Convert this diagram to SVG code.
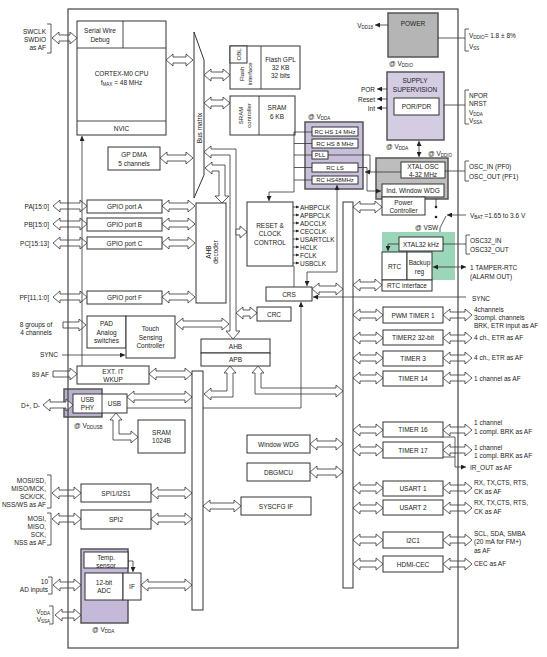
<svg xmlns="http://www.w3.org/2000/svg" width="547" height="657" viewBox="0 0 547 657">
<style>
.b{fill:#fff;stroke:#333;stroke-width:1}
.h{fill:#fff;stroke:#333;stroke-width:0.8}
.l{fill:none;stroke:#333;stroke-width:0.8}
.k{fill:none;stroke:#333;stroke-width:0.9}
.g{fill:#b5b5b5;stroke:#555;stroke-width:1.5}
.p{fill:#d4cce3;stroke:#555;stroke-width:1.5}
.q{fill:#c8bfda;stroke:#555;stroke-width:1.5}
.gr{fill:#9bd5ba;stroke:none}
text{font-family:"Liberation Sans",Arial,sans-serif;font-size:6.5px;fill:#222;dominant-baseline:central}
.t{text-anchor:middle}
.e{text-anchor:end}
.u{font-size:4.5px}
.sm{font-size:6px}
</style>
<defs>
<marker id="a" viewBox="0 0 8 8" refX="8" refY="4" markerWidth="5" markerHeight="5" orient="auto-start-reverse" markerUnits="userSpaceOnUse"><path d="M0,0L8,4L0,8z" fill="#222"/></marker>
<marker id="m" viewBox="0 0 8 8" refX="8" refY="4" markerWidth="3.5" markerHeight="3.5" orient="auto" markerUnits="userSpaceOnUse"><path d="M0,0L8,4L0,8z" fill="#222"/></marker>
<polygon id="d29" class="h" points="0,0 7,-6 7,-3 22,-3 22,-6 29,0 22,6 22,3 7,3 7,6"/>
<polygon id="d30" class="h" points="0,0 7,-6 7,-3 23,-3 23,-6 30,0 23,6 23,3 7,3 7,6"/>
<polygon id="d33" class="h" points="0,0 7,-6 7,-3 26,-3 26,-6 33,0 26,6 26,3 7,3 7,6"/>
<polygon id="d34" class="h" points="0,0 7,-6 7,-3 27,-3 27,-6 34,0 27,6 27,3 7,3 7,6"/>
</defs>
<rect width="547" height="657" fill="#fff"/>

<g id="power">
<rect class="g" x="388" y="13" width="50" height="44"/>
<text class="t" x="413" y="23">POWER</text>
<text x="389" y="63">@ V<tspan class="u" dy="1.5">DDIO</tspan></text>
<text class="e" x="373" y="25">V<tspan class="u" dy="1.5">DD18</tspan></text>
</g>
<g id="supply">
<rect class="p" x="387" y="72" width="57" height="68"/>
<text class="t" x="415" y="80">SUPPLY</text>
<text class="t" x="415" y="89">SUPERVISION</text>
<rect class="b" x="394" y="98" width="45" height="17"/>
<text class="t" x="416.5" y="106.5">POR/PDR</text>
<text class="e" x="375" y="89">POR</text>
<text class="e" x="375" y="99">Reset</text>
<text class="e" x="375" y="108">Int</text>
<text x="386" y="146">@ V<tspan class="u" dy="1.5">DDA</tspan></text>
</g>
<g id="osc">
<rect class="g" x="376" y="158" width="72" height="41" style="fill:#bdbdbd"/>
<rect class="b" x="401" y="162" width="44" height="16"/>
<text class="t" x="423" y="166">XTAL OSC</text>
<text class="t" x="423" y="174">4-32 MHz</text>
<rect class="b" x="382" y="184" width="62" height="13"/>
<text class="t" x="413" y="190.5">Ind. Window WDG</text>
<text x="428" y="153">@ V<tspan class="u" dy="1.5">DDIO</tspan></text>
</g>
<g id="power-controller">
<rect class="b" x="382" y="197" width="43" height="18"/>
<text class="t" x="403.5" y="202">Power</text>
<text class="t" x="403.5" y="210">Controller</text>
</g>
<g id="rtc">
<rect class="gr" x="382" y="232" width="73" height="48"/>
<rect class="b" x="399" y="237" width="44" height="14"/>
<text class="t" x="421" y="244">XTAL32 kHz</text>
<rect class="b" x="382" y="252" width="25" height="28"/>
<text class="t" x="394.5" y="266">RTC</text>
<rect class="b" x="407" y="252" width="25" height="28"/>
<text class="t" x="419.5" y="262">Backup</text>
<text class="t" x="419.5" y="271">reg</text>
<rect class="b" x="382" y="280" width="50" height="11"/>
<text class="t" x="407" y="285.5">RTC interface</text>
<text x="415" y="227">@ VSW</text>
</g>
<g id="clocks">
<rect class="q" x="305" y="122" width="58" height="67"/>
<rect class="b" x="312" y="127" width="46" height="9"/>
<text class="t sm" x="335" y="131.5">RC HS 14 MHz</text>
<rect class="b" x="312" y="139" width="46" height="9"/>
<text class="t sm" x="335" y="143.5">RC HS 8 MHz</text>
<rect class="b" x="312" y="151" width="16" height="8"/>
<text class="t sm" x="320" y="155">PLL</text>
<rect class="b" x="312" y="163" width="46" height="9"/>
<text class="t sm" x="335" y="167.5">RC LS</text>
<rect class="b" x="312" y="176" width="46" height="8"/>
<text class="t sm" x="335" y="180">RC HS48MHz</text>
<text x="308" y="116">@ V<tspan class="u" dy="1.5">DDA</tspan></text>
</g>

<g id="cpu">
<rect class="b" x="77" y="21" width="89" height="114"/>
<path class="k" d="M77,48H166M123,21V48M77,121H166"/>
<text class="t" x="100" y="30">Serial Wire</text>
<text class="t" x="100" y="39">Debug</text>
<text class="t" x="121.5" y="73">CORTEX-M0 CPU</text>
<text class="t" x="121.5" y="82">f<tspan class="u" dy="1.5">MAX</tspan><tspan dy="-1.5"> = 48 MHz</tspan></text>
<text class="t" x="121.5" y="128">NVIC</text>
</g>
<g id="bus-matrix">
<polygon class="b" points="194,32 204,60 204,175 194,198"/>
<text class="t" transform="translate(199.5,128) rotate(-90)">Bus matrix</text>
</g>
<g id="flash">
<rect class="b" x="230" y="46" width="70" height="43"/>
<path class="k" d="M261,46V89"/>
<rect class="b" x="230" y="46" width="17" height="17"/>
<text class="t sm" transform="translate(238.5,54.5) rotate(-90)">OBL</text>
<text class="t sm" transform="translate(246,74) rotate(-90)"><tspan x="0" y="-4">Flash</tspan><tspan x="0" y="4">interface</tspan></text>
<text class="t" x="280.5" y="59">Flash GPL</text>
<text class="t" x="280.5" y="67">32 KB</text>
<text class="t" x="280.5" y="75">32 bits</text>
</g>
<g id="sram">
<rect class="b" x="230" y="96" width="65" height="39"/>
<path class="k" d="M259,96V135"/>
<text class="t sm" transform="translate(244.5,115.5) rotate(-90)"><tspan x="0" y="-4">SRAM</tspan><tspan x="0" y="4">controller</tspan></text>
<text class="t" x="277" y="107">SRAM</text>
<text class="t" x="277" y="116">6 KB</text>
</g>
<g id="dma">
<rect class="b" x="108" y="147" width="52" height="23"/>
<text class="t" x="134" y="154">GP DMA</text>
<text class="t" x="134" y="163">5 channels</text>
</g>
<g id="gpio">
<rect class="b" x="87" y="200" width="75" height="13"/>
<text class="t" x="124.5" y="206.5">GPIO port A</text>
<rect class="b" x="87" y="218" width="75" height="13"/>
<text class="t" x="124.5" y="224.5">GPIO port B</text>
<rect class="b" x="87" y="237" width="75" height="12"/>
<text class="t" x="124.5" y="243">GPIO port C</text>
<rect class="b" x="87" y="291" width="75" height="13"/>
<text class="t" x="124.5" y="297.5">GPIO port F</text>
</g>
<g id="ahb-decoder">
<rect class="b" x="196" y="203" width="30" height="100"/>
<text class="t" transform="translate(211,252) rotate(-90)"><tspan x="0" y="-3.5">AHB</tspan><tspan x="0" y="3.5">decoder</tspan></text>
</g>
<g id="rcc">
<rect class="b" x="247" y="202" width="46" height="64"/>
<text class="t" x="270" y="225">RESET &amp;</text>
<text class="t" x="270" y="233">CLOCK</text>
<text class="t" x="270" y="242">CONTROL</text>
</g>
<g id="touch">
<rect class="b" x="87" y="316" width="39" height="32"/>
<text class="t" x="106.5" y="323">PAD</text>
<text class="t" x="106.5" y="332">Analog</text>
<text class="t" x="106.5" y="340">switches</text>
<rect class="b" x="126" y="316" width="49" height="42"/>
<text class="t" x="150.5" y="328">Touch</text>
<text class="t" x="150.5" y="337">Sensing</text>
<text class="t" x="150.5" y="345">Controller</text>
</g>
<g id="crc">
<rect class="b" x="257" y="307" width="34" height="14"/>
<text class="t" x="274" y="314">CRC</text>
</g>
<g id="crs">
<rect class="b" x="266" y="287" width="46" height="14"/>
<text class="t" x="289" y="294">CRS</text>
</g>
<g id="ahb-apb">
<rect class="b" x="201" y="339" width="69" height="14"/>
<text class="t" x="235.5" y="346">AHB</text>
<rect class="b" x="201" y="353" width="69" height="13"/>
<text class="t" x="235.5" y="359.5">APB</text>
</g>
<g id="exti">
<rect class="b" x="77" y="366" width="72" height="18"/>
<text class="t" x="113" y="371">EXT. IT</text>
<text class="t" x="113" y="379">WKUP</text>
</g>
<g id="usb">
<rect x="64" y="389" width="38" height="28" fill="#b9b0cc" stroke="#555" stroke-width="1.5"/>
<rect class="b" x="73" y="394" width="54" height="19"/>
<path class="k" d="M102,394V413"/>
<text class="t" x="87.5" y="399.5">USB</text>
<text class="t" x="87.5" y="407.5">PHY</text>
<text class="t" x="114.5" y="403.5">USB</text>
<text x="74" y="425">@ V<tspan class="u" dy="1.5">DDUSB</tspan></text>
</g>
<g id="sram1024">
<rect class="b" x="138" y="420" width="47" height="33"/>
<text class="t" x="161.5" y="432">SRAM</text>
<text class="t" x="161.5" y="440">1024B</text>
</g>
<g id="periph-bus">
<rect class="b" x="343" y="202" width="10" height="386"/>
</g>
<g id="wwdg">
<rect class="b" x="247" y="435" width="63" height="18"/>
<text class="t" x="278.5" y="444">Window WDG</text>
</g>
<g id="dbgmcu">
<rect class="b" x="247" y="463" width="63" height="18"/>
<text class="t" x="278.5" y="472">DBGMCU</text>
</g>
<g id="syscfg">
<rect class="b" x="241" y="497" width="70" height="18"/>
<text class="t" x="276" y="506">SYSCFG IF</text>
</g>
<g id="spi1">
<rect class="b" x="81" y="484" width="70" height="18"/>
<text class="t" x="116" y="493">SPI1/I2S1</text>
</g>
<g id="spi2">
<rect class="b" x="81" y="510" width="70" height="19"/>
<text class="t" x="116" y="519.5">SPI2</text>
</g>
<g id="adc">
<rect x="81" y="549" width="47" height="74" fill="#c4b9d9" stroke="#555" stroke-width="1.5"/>
<rect class="b" x="84" y="552" width="44" height="16"/>
<text class="t" x="106" y="557">Temp.</text>
<text class="t" x="106" y="565">sensor</text>
<rect class="b" x="85" y="573" width="38" height="27"/>
<text class="t" x="104" y="582">12-bit</text>
<text class="t" x="104" y="590">ADC</text>
<rect class="b" x="123" y="573" width="18" height="27"/>
<text class="t" x="132" y="586">IF</text>
<text x="92" y="629">@ V<tspan class="u" dy="1.5">DDA</tspan></text>
</g>
<g id="timers">
<rect class="b" x="383" y="307" width="60" height="16"/><text class="t" x="413" y="315">PWM TIMER 1</text>
<rect class="b" x="383" y="330" width="60" height="15"/><text class="t" x="413" y="337.5">TIMER2 32-bit</text>
<rect class="b" x="383" y="351" width="60" height="15"/><text class="t" x="413" y="358.5">TIMER 3</text>
<rect class="b" x="383" y="371" width="60" height="15"/><text class="t" x="413" y="378.5">TIMER 14</text>
<rect class="b" x="383" y="422" width="60" height="15"/><text class="t" x="413" y="429.5">TIMER 16</text>
<rect class="b" x="383" y="442" width="60" height="16"/><text class="t" x="413" y="450">TIMER 17</text>
</g>
<g id="comms">
<rect class="b" x="383" y="481" width="60" height="15"/><text class="t" x="413" y="488.5">USART 1</text>
<rect class="b" x="383" y="500" width="60" height="15"/><text class="t" x="413" y="507.5">USART 2</text>
<rect class="b" x="383" y="532" width="60" height="16"/><text class="t" x="413" y="540">I2C1</text>
<rect class="b" x="383" y="556" width="60" height="16"/><text class="t" x="413" y="564">HDMI-CEC</text>
</g>

<g id="connectors">
<polygon class="h" points="52,38 59,32 59,35 70,35 70,32 77,38 70,44 70,41 59,41 59,44"/>
<polygon class="h" points="166,60 173,54 173,57 186,57 186,54 193,60 186,66 186,63 173,63 173,66"/>
<polygon class="h" points="204,75 211,69 211,72 223,72 223,69 230,75 223,81 223,78 211,78 211,81"/>
<polygon class="h" points="204,103 211,97 211,100 223,100 223,97 230,103 223,109 223,106 211,106 211,109"/>
<polygon class="h" points="160,158 167,152 167,155 186,155 186,152 193,158 186,164 186,161 167,161 167,164"/>
<use href="#d34" transform="translate(53,206)"/>
<use href="#d33" transform="translate(162,206)"/>
<use href="#d34" transform="translate(53,224)"/>
<use href="#d33" transform="translate(162,224)"/>
<use href="#d34" transform="translate(53,243)"/>
<use href="#d33" transform="translate(162,243)"/>
<use href="#d34" transform="translate(53,297)"/>
<use href="#d33" transform="translate(162,297)"/>
<polygon class="h" points="204,152 211,146 211,149 236,149 236,331 240,331 233,339 226,331 230,331 230,155 211,155 211,158"/>
<polygon class="h" points="205,168 212,162 212,165 225,165 225,196 229,196 222,203 215,196 219,196 219,171 212,171 212,174"/>
<polygon class="h" points="236,229 240,229 240,226 247,232 240,238 240,235 236,235"/>
<polygon class="h" points="63,322 79,322 79,319 86,325 79,331 79,328 63,328"/>
<polygon class="h" points="176,324 183,318 183,321 222,321 222,318 229,324 222,330 222,327 183,327 183,330"/>
<polygon class="h" points="236,313 243,307 243,310 250,310 250,307 257,313 250,319 250,316 243,316 243,319"/>
<polygon class="h" points="312,289 319,283 319,286 336,286 336,283 343,289 336,295 336,292 319,292 319,295"/>
<polygon class="h" points="53,371 70,371 70,368 77,374 70,380 70,377 53,377"/>
<polygon class="h" points="149,374 156,368 156,371 185,371 185,368 192,374 185,380 185,377 156,377 156,380"/>
<polygon class="h" points="43,405 50,399 50,402 66,402 66,399 73,405 66,411 66,408 50,408 50,411"/>
<polygon class="h" points="127,397 134,391 134,394 185,394 185,391 192,397 185,403 185,400 134,400 134,403"/>
<polygon class="h" points="116,413 122,420 119,420 119,434 131,434 131,431 138,437 131,443 131,440 113,440 113,420 110,420"/>
<polygon class="h" points="230,366 236,373 233,373 233,397 211,397 211,400 204,394 211,388 211,391 227,391 227,373 224,373"/>
<polygon class="h" points="258,366 264,373 261,373 261,388 336,388 336,385 343,391 336,397 336,394 255,394 255,373 252,373"/>
<use href="#d29" transform="translate(353,207)"/>
<use href="#d29" transform="translate(353,285)"/>
<use href="#d30" transform="translate(353,315)"/>
<use href="#d30" transform="translate(353,338)"/>
<use href="#d30" transform="translate(353,358)"/>
<use href="#d30" transform="translate(353,378)"/>
<use href="#d30" transform="translate(353,430)"/>
<use href="#d30" transform="translate(353,450)"/>
<use href="#d30" transform="translate(353,488)"/>
<use href="#d30" transform="translate(353,508)"/>
<use href="#d30" transform="translate(353,540)"/>
<use href="#d30" transform="translate(353,564)"/>
<use href="#d29" transform="translate(443,315)"/>
<use href="#d29" transform="translate(443,338)"/>
<use href="#d29" transform="translate(443,358)"/>
<use href="#d29" transform="translate(443,378)"/>
<use href="#d29" transform="translate(443,430)"/>
<use href="#d29" transform="translate(443,450)"/>
<use href="#d29" transform="translate(443,488)"/>
<use href="#d29" transform="translate(443,508)"/>
<use href="#d29" transform="translate(443,540)"/>
<use href="#d29" transform="translate(443,564)"/>
<use href="#d33" transform="translate(310,444)"/>
<use href="#d33" transform="translate(310,472)"/>
<polygon class="h" points="203,506 210,500 210,503 234,503 234,500 241,506 234,512 234,509 210,509 210,512"/>
<use href="#d29" transform="translate(52,493)"/>
<use href="#d29" transform="translate(52,519)"/>
<polygon class="h" points="151,493 158,487 158,490 185,490 185,487 192,493 185,499 185,496 158,496 158,499"/>
<polygon class="h" points="151,519 158,513 158,516 185,516 185,513 192,519 185,525 185,522 158,522 158,525"/>
<polygon class="h" points="141,585 148,579 148,582 185,582 185,579 192,585 185,591 185,588 148,588 148,591"/>
<polygon class="h" points="53,585 60,579 60,582 74,582 74,579 81,585 74,591 74,588 60,588 60,591"/>
<polygon class="h" points="55,615 62,609 62,612 74,612 74,609 81,615 74,621 74,618 62,618 62,621"/>

<path class="l" d="M82,366V136" marker-end="url(#a)"/>
<path class="l" d="M62,355H125" marker-end="url(#a)"/>
<path class="l" d="M127,408H301V302" marker-end="url(#a)"/>
<path class="l" d="M466,297H313" marker-end="url(#a)"/>
<path class="l" d="M294,132V192H269V201" marker-end="url(#a)"/>
<path class="l" d="M294,132H312M294,143.5H312M294,155H312M294,167.5H312M294,180H312"/>
<path class="l" d="M328,155H370V172"/>
<path class="l" d="M401,172H365" marker-end="url(#a)"/>
<path class="l" d="M358,167.5H367V191H381" marker-end="url(#a)"/>
<path class="l" d="M337,185V272H307V286" marker-start="url(#a)" marker-end="url(#a)"/>
<path class="l" d="M294,266V287"/>
<path class="l" d="M293,207H299" marker-end="url(#m)"/>
<path class="l" d="M293,215H299" marker-end="url(#m)"/>
<path class="l" d="M293,223H299" marker-end="url(#m)"/>
<path class="l" d="M293,231H299" marker-end="url(#m)"/>
<path class="l" d="M293,239H299" marker-end="url(#m)"/>
<path class="l" d="M293,247H299" marker-end="url(#m)"/>
<path class="l" d="M293,255H299" marker-end="url(#m)"/>
<path class="l" d="M293,263H299" marker-end="url(#m)"/>
<path class="l" d="M388,25H375" marker-end="url(#a)"/>
<path class="l" d="M438,38H465M444,105H465M445,171H465M443,244H466"/>
<path class="l" d="M387,89H377" marker-end="url(#a)"/>
<path class="l" d="M387,99H377" marker-end="url(#a)"/>
<path class="l" d="M387,108H377" marker-end="url(#a)"/>
<path class="l" d="M419,141V157" marker-start="url(#a)" marker-end="url(#a)"/>
<path class="l" d="M466,215H447" marker-end="url(#a)"/>
<path class="l" d="M436,199V206M446,216L440,228V232"/>
<circle cx="436" cy="207" r="1.3" fill="#222"/>
<circle cx="436" cy="217" r="1.3" fill="#222"/>
<path class="l" d="M399,244H388V251" marker-end="url(#a)"/>
<path class="l" d="M433,267H466" marker-start="url(#a)" marker-end="url(#a)"/>
<path class="l" d="M443,437H455V467H466" marker-end="url(#a)"/>
<path class="l" d="M443,457H455"/>
<path class="l" d="M128,561H133V572" marker-end="url(#a)"/>
<path class="l" d="M469,29H465V51H469M469,90H465V124H469M469,161H465V181H469M470,235H466V254H470"/>
<path class="l" d="M47,24H51V53H47M47,475H51V508H47M47,513H51V545H47M48,577H52V594H48M49,606H53V624H49"/>
</g>

<g id="apb-bus">
<rect class="b" x="192" y="371" width="11" height="239"/>
</g>

<rect id="frame" x="68" y="9" width="390" height="639" fill="none" stroke="#444" stroke-width="1.2"/>

<g id="clock-labels">
<text x="300" y="207">AHBPCLK</text>
<text x="300" y="215">APBPCLK</text>
<text x="300" y="223">ADCCLK</text>
<text x="300" y="231">CECCLK</text>
<text x="300" y="239">USARTCLK</text>
<text x="300" y="247">HCLK</text>
<text x="300" y="255">FCLK</text>
<text x="300" y="263">USBCLK</text>
</g>
<g id="left-labels">
<text class="e" x="46" y="31">SWCLK</text>
<text class="e" x="46" y="39">SWDIO</text>
<text class="e" x="46" y="47">as AF</text>
<text class="e" x="49" y="206">PA[15:0]</text>
<text class="e" x="49" y="224">PB[15:0]</text>
<text class="e" x="49" y="243">PC[15:13]</text>
<text class="e" x="49" y="297">PF[11,1:0]</text>
<text class="t" x="36" y="324">8 groups of</text>
<text class="t" x="36" y="332">4 channels</text>
<text class="e" x="58" y="354">SYNC</text>
<text class="e" x="49" y="374">89 AF</text>
<text class="e" x="40" y="405">D+, D-</text>
<text class="e" x="46" y="480">MOSI/SD,</text>
<text class="e" x="46" y="488">MISO/MCK,</text>
<text class="e" x="46" y="496">SCK/CK,</text>
<text class="e" x="46" y="504">NSS/WS as AF</text>
<text class="e" x="46" y="518">MOSI,</text>
<text class="e" x="46" y="526">MISO,</text>
<text class="e" x="46" y="534">SCK,</text>
<text class="e" x="46" y="542">NSS as AF</text>
<text class="e" x="48" y="581">10</text>
<text class="e" x="48" y="589">AD inputs</text>
<text class="e" x="50" y="611">V<tspan class="u" dy="1.5">DDA</tspan></text>
<text class="e" x="50" y="619">V<tspan class="u" dy="1.5">SSA</tspan></text>
</g>
<g id="right-labels">
<text x="469" y="35">V<tspan class="u" dy="1.5">DDIO</tspan><tspan dy="-1.5">= 1.8 ± 8%</tspan></text>
<text x="469" y="46">V<tspan class="u" dy="1.5">SS</tspan></text>
<text x="469" y="95">NPOR</text>
<text x="469" y="103">NRST</text>
<text x="469" y="112">V<tspan class="u" dy="1.5">DDA</tspan></text>
<text x="469" y="120">V<tspan class="u" dy="1.5">SSA</tspan></text>
<text x="469" y="166">OSC_IN (PF0)</text>
<text x="469" y="176">OSC_OUT (PF1)</text>
<text x="470" y="215">V<tspan class="u" dy="1.5">BAT</tspan><tspan dy="-1.5"> =1.65 to 3.6 V</tspan></text>
<text x="470" y="240">OSC32_IN</text>
<text x="470" y="249">OSC32_OUT</text>
<text x="470" y="267">1 TAMPER-RTC</text>
<text x="470" y="276">(ALARM OUT)</text>
<text x="472" y="298">SYNC</text>
<text x="474" y="309">4channels</text>
<text x="474" y="317">3compl. channels</text>
<text x="474" y="325">BRK, ETR input as AF</text>
<text x="474" y="337">4 ch., ETR as AF</text>
<text x="474" y="357">4 ch., ETR as AF</text>
<text x="474" y="378">1 channel as AF</text>
<text x="474" y="422">1 channel</text>
<text x="474" y="431">1 compl. BRK as AF</text>
<text x="474" y="447">1 channel</text>
<text x="474" y="455">1 compl. BRK as AF</text>
<text x="470" y="467">IR_OUT as AF</text>
<text x="474" y="482">RX, TX,CTS, RTS,</text>
<text x="474" y="491">CK as AF</text>
<text x="474" y="502">RX, TX,CTS, RTS,</text>
<text x="474" y="511">CK as AF</text>
<text x="474" y="533">SCL, SDA, SMBA</text>
<text x="474" y="541">(20 mA for FM+)</text>
<text x="474" y="550">as AF</text>
<text x="474" y="563">CEC as AF</text>
</g>
</svg>
